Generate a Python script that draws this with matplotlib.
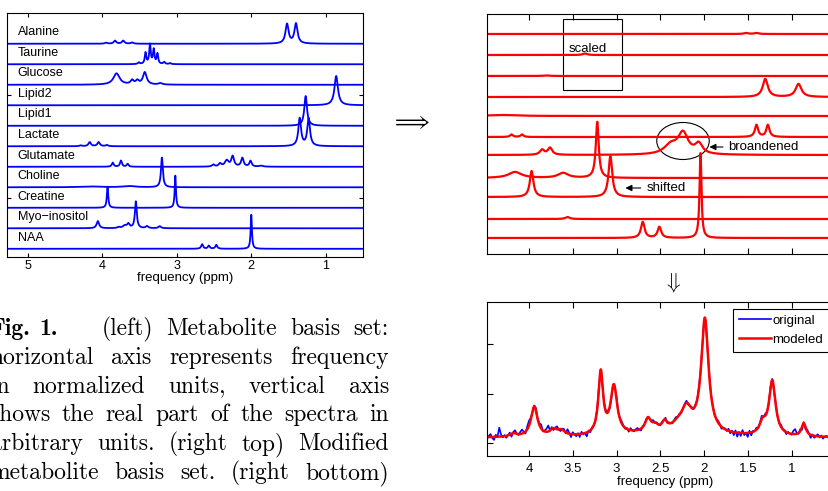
import numpy as np
import matplotlib.pyplot as plt
from matplotlib.patches import Rectangle, Ellipse

W, H = 829, 491
plt.rcParams['font.family'] = ['Liberation Sans', 'DejaVu Sans']
plt.rcParams['mathtext.fontset'] = 'cm'

# ---- left panel: metabolite basis set, peaks are (ppm, height, half width)
names = ["Alanine", "Taurine", "Glucose", "Lipid2", "Lipid1", "Lactate",
         "Glutamate", "Choline", "Creatine", "Myo\u2212inositol", "NAA"]
alanine = [(1.52, 0.95, 0.025), (1.40, 0.97, 0.025), (3.83, 0.15, 0.02),
           (3.72, 0.15, 0.02), (3.60, 0.06, 0.02), (3.95, 0.05, 0.02)]
taurine = [(3.42, 0.55, 0.012), (3.36, 0.95, 0.012), (3.31, 0.7, 0.012),
           (3.26, 0.5, 0.012), (3.51, 0.08, 0.015), (3.17, 0.1, 0.015),
           (3.09, 0.05, 0.015)]
glucose = [(3.81, 0.55, 0.05), (3.60, 0.2, 0.025), (3.53, 0.18, 0.025),
           (3.43, 0.6, 0.03), (3.22, 0.07, 0.03)]
lipid2 = [(0.86, 1.43, 0.028)]
lipid1 = [(1.27, 1.45, 0.022)]
lactate = [(1.35, 1.35, 0.022), (1.23, 1.35, 0.022), (4.17, 0.2, 0.02),
           (4.05, 0.2, 0.02), (3.94, 0.06, 0.02), (4.29, 0.04, 0.02)]
glutamate = [(3.86, 0.2, 0.015), (3.75, 0.3, 0.015), (3.66, 0.14, 0.015),
             (2.33, 0.3, 0.03), (2.25, 0.5, 0.022), (2.12, 0.42, 0.02),
             (2.01, 0.28, 0.018), (2.42, 0.15, 0.02), (2.51, 0.1, 0.02),
             (1.87, 0.05, 0.03)]
choline = [(3.20, 1.45, 0.015), (3.64, 0.06, 0.1), (4.17, 0.04, 0.15)]
creatine = [(3.93, 1.03, 0.011), (3.02, 1.57, 0.01)]
myo = [(3.55, 1.3, 0.015), (4.06, 0.35, 0.02), (3.65, 0.2, 0.02),
       (3.70, 0.12, 0.03), (3.78, 0.05, 0.02), (3.40, 0.1, 0.02),
       (3.23, 0.1, 0.02)]
naa = [(2.00, 1.67, 0.01), (2.66, 0.22, 0.015), (2.57, 0.15, 0.015),
       (2.47, 0.19, 0.015)]
basis = [alanine, taurine, glucose, lipid2, lipid1, lactate,
         glutamate, choline, creatine, myo, naa]

# ---- right top: modified basis set (pixel-like units), baseline offsets
mod_offsets = [220, 199, 178, 157, 138, 117, 99, 76, 57, 35, 16]
mod_alanine = [(1.52, 1.0, 0.03), (1.40, 1.0, 0.03)]
mod_taurine = [(3.36, 1.5, 0.03)]
mod_glucose = [(3.80, 0.5, 0.05)]
mod_lipid = [(1.30, 18, 0.035), (0.92, 13, 0.04)]
mod_lipid1 = [(4.30, 1.0, 0.2)]
mod_lactate = [(4.20, 2.5, 0.02), (4.08, 2.5, 0.02), (1.40, 12, 0.022),
               (1.27, 12, 0.022)]
mod_glutamate = [(3.85, 5, 0.03), (3.76, 7, 0.03), (2.38, 9, 0.09),
                 (2.24, 21, 0.07), (2.06, 10, 0.05)]
mod_choline = [(3.22, 56, 0.02), (4.16, 6, 0.09), (3.61, 5, 0.07)]
mod_creatine = [(3.97, 26, 0.025), (3.07, 41, 0.025)]
mod_myo = [(3.56, 2, 0.03)]
mod_naa = [(2.04, 85, 0.013), (2.70, 16, 0.025), (2.51, 11, 0.025)]
modified = [mod_alanine, mod_taurine, mod_glucose, mod_lipid, mod_lipid1,
            mod_lactate, mod_glutamate, mod_choline, mod_creatine, mod_myo,
            mod_naa]

# ---- right bottom: measured vs modeled spectrum
fit_baseline = 18
fit_peaks = [(3.94, 30, 0.045), (4.18, 3, 0.05), (3.72, 6, 0.05),
             (3.63, 5, 0.05), (3.18, 62, 0.032), (3.03, 48, 0.045),
             (2.64, 13, 0.04), (2.56, 5, 0.04), (2.45, 8, 0.035),
             (2.20, 22, 0.07), (2.30, 5, 0.08), (1.99, 114, 0.05),
             (1.33, 11, 0.04), (1.22, 55, 0.045), (0.86, 13, 0.03),
             (2.40, 5, 0.6)]
orig_start, orig_step = 4.48, 0.02
orig_noise = [-2, 1, 3, -1, -3, 2, 0, 9, 2, -1, 1, -2, 0, 2, -3, 1, 3, 0, -1, 2,
              4, 1, -2, 3, 5, 2, -1, 1, 3, 0, 2, 4, -1, 1, 3, 6, 0, 2, -2, 1,
              3, 0, -2, 1, 2, -1, 4, 1, -3, 2, 0, -2, 1, -3, 2, -1, 0, -4, 1, -2,
              1, 0, -1, 1, 2, 0, -1, 1, 0, 2, -1, -2, 1, 0, 3, -1, 1, 2, 0, -1,
              1, -2, 2, 0, -1, 1, 2, 0, -2, 1, 0, 1, -1, 0, 1, 2, -1, 1, 0, -1,
              1, 0, 2, -1, 1, 0, -1, 1, 2, 0, 1, -1, 0, 1, 2, -1, 0, 1, -1, 1,
              0, 2, 1, -1, 0, 1, -1, 2, 0, 1, -1, 0, 2, 1, -2, 0, 1, -1, 2, -2,
              1, -3, 2, -4, 1, -3, 3, -2, 0, -4, 2, -3, 1, 0, 2, -1, 1, 3, -1, 2,
              0, -1, 2, 1, -2, 1, 0, -1, 2, 0, 1, -2, 1, 0, -1, 3, 5, 1, -1, 2,
              -3, 1, -2, 2, 0, -3, 1, -2, 0, 2, -1, 1, -2, 0, 1, -1, 0, 1, -1, 0]
qx = [4, 3.5, 3, 2.5, 2, 1.5, 1, 0.5]
qlab = ["4", "3.5", "3", "2.5", "2", "1.5", "1", ""]


def spectrum(ppm, peaks):
    y = np.zeros_like(ppm)
    for c, h, w in peaks:
        y += h * w**2 / ((ppm - c)**2 + w**2)
    return y


def frac(x, y):
    return x / W, 1 - y / H


fig = plt.figure(figsize=(W / 100, H / 100), dpi=100)

# left axes
ax1 = fig.add_axes([7 / W, 1 - 257 / H, 356 / W, 244 / H])
x1 = np.linspace(5.3, 0.45, 3000)
n = len(names)
for i, (name, pk) in enumerate(zip(names, basis)):
    off = n - 1 - i
    ax1.plot(x1, off + spectrum(x1, pk), color='#0000ff', lw=1.3)
    ax1.text(5.135, off + 0.55, name, fontsize=9, va='center', ha='left')
ax1.set_xlim(5.28, 0.50)
ax1.set_ylim(-0.4, 11.5)
ax1.set_xticks([5, 4, 3, 2, 1])
ax1.set_yticks([2.5, 7.5])
ax1.set_yticklabels([])
ax1.tick_params(direction='in', top=True, right=True, length=3,
                labelsize=9, pad=2)
ax1.set_xlabel('frequency (ppm)', fontsize=9.5, labelpad=0)

# right top axes
ax2 = fig.add_axes([487 / W, 1 - 254 / H, 357 / W, 240 / H])
x2 = np.linspace(4.6, 0.3, 3000)
for off, pk in zip(mod_offsets, modified):
    ax2.plot(x2, off + spectrum(x2, pk), color='#ff0000', lw=1.6)
ax2.set_xlim(4.48, 0.40)
ax2.set_ylim(0, 240)
ax2.set_xticks(qx)
ax2.set_xticklabels([])
ax2.set_yticks([])
ax2.tick_params(direction='in', top=True, right=True, length=4)
ax2.add_patch(Rectangle((2.94, 164), 0.67, 71, fill=False, lw=0.8,
                        color='black'))
ax2.text(3.55, 205, 'scaled', fontsize=9.5, va='center', ha='left')
ax2.add_patch(Ellipse((2.24, 254 - 141), 0.6, 37, fill=False, lw=0.8,
                      color='black'))
ax2.annotate('broandened', xy=(1.97, 254 - 147), xytext=(1.72, 254 - 147),
             fontsize=9.5, va='center', ha='left',
             arrowprops=dict(arrowstyle='-|>', color='black', lw=0.8))
ax2.annotate('shifted', xy=(2.93, 254 - 188), xytext=(2.66, 254 - 188),
             fontsize=9.5, va='center', ha='left',
             arrowprops=dict(arrowstyle='-|>', color='black', lw=0.8))

# right bottom axes
ax3 = fig.add_axes([487 / W, 1 - 456 / H, 357 / W, 154 / H])
x3 = np.linspace(4.6, 0.3, 3000)
xo = orig_start - orig_step * np.arange(len(orig_noise))
ax3.plot(xo, fit_baseline + spectrum(xo, fit_peaks) + np.array(orig_noise),
         color='#0000ff', lw=1.2, label='original')
ax3.plot(x3, fit_baseline + spectrum(x3, fit_peaks), color='#ff0000',
         lw=1.8, label='modeled')
ax3.set_xlim(4.48, 0.40)
ax3.set_ylim(0, 154)
ax3.set_xticks(qx)
ax3.set_xticklabels(qlab)
ax3.set_yticks([13, 62, 112])
ax3.set_yticklabels([])
ax3.tick_params(direction='in', top=True, right=True, length=4,
                labelsize=9.5, pad=5)
ax3.set_xlabel('frequency (ppm)', fontsize=9.5, labelpad=1)
leg = ax3.legend(loc='upper left', bbox_to_anchor=(0.689, 0.955),
                 borderaxespad=0, fontsize=9.5, handlelength=2.4,
                 handletextpad=0.15, labelspacing=0.5, borderpad=0.45,
                 fancybox=False, framealpha=1)
leg.get_frame().set_edgecolor('black')
leg.get_frame().set_linewidth(0.8)

# arrows between panels
fig.text(*frac(411, 123), r'$\Longrightarrow$', fontsize=16,
         ha='center', va='center')
fig.text(*frac(672, 282), r'$\Downarrow$', fontsize=16,
         ha='center', va='center')

# caption, justified by hand
caption = [
    (["Fig.", "1.", "(left)", "Metabolite", "basis", "set:"],
     [True, True, False, False, False, False], [0.7, 3.3, 1, 1, 1]),
    (["horizontal", "axis", "represents", "frequency"], None, None),
    (["in", "normalized", "units,", "vertical", "axis"], None, None),
    (["shows", "the", "real", "part", "of", "the", "spectra", "in"],
     None, None),
    (["arbitrary", "units.", "(right", "top)", "Modified"], None, None),
    (["metabolite", "basis", "set.", "(right", "bottom)"], None, None),
]
cap_x0, cap_x1, cap_y0, cap_dy = -10, 389, 335, 28.8
renderer = fig.canvas.get_renderer()
for k, (words, bold, weights) in enumerate(caption):
    bold = bold or [False] * len(words)
    weights = weights or [1] * (len(words) - 1)
    texts = [fig.text(0, 0, w, fontname='cmb10' if b else 'cmr10',
                      fontsize=17, va='baseline', ha='left')
             for w, b in zip(words, bold)]
    widths = [t.get_window_extent(renderer).width for t in texts]
    unit = (cap_x1 - cap_x0 - sum(widths)) / sum(weights)
    x = cap_x0
    y = cap_y0 + k * cap_dy
    for j, (t, wd) in enumerate(zip(texts, widths)):
        t.set_position(frac(x, y))
        if j < len(weights):
            x += wd + unit * weights[j]

fig.savefig('out.png', dpi=100)
